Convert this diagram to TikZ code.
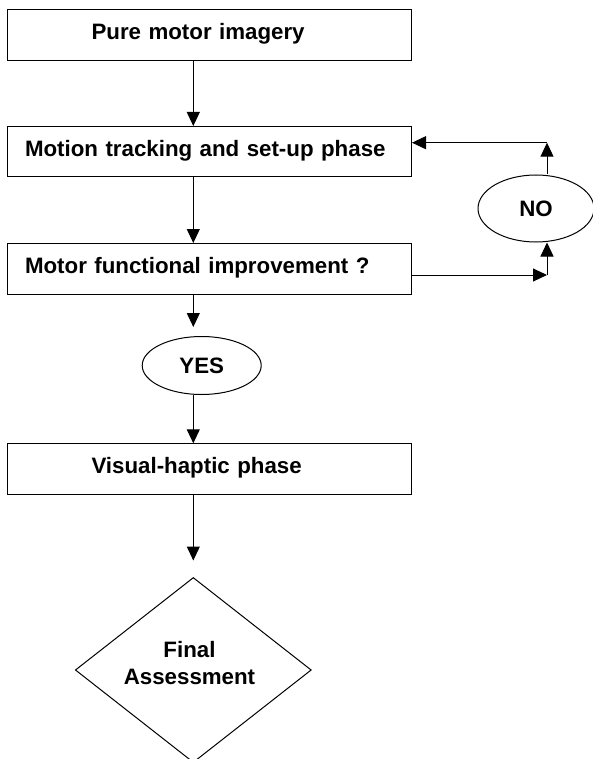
\documentclass[tikz,border=0pt]{standalone}
\usepackage{fontspec}
\setmainfont{Liberation Sans}
\usetikzlibrary{shapes.geometric,arrows.meta,calc}
\begin{document}
\begin{tikzpicture}[x=1pt,y=1pt,
  every node/.style={font=\fontsize{22.3}{26.7}\selectfont\bfseries},
  box/.style={draw, line width=1pt, rectangle, minimum width=404pt, text height=30pt, text depth=20.5pt, inner ysep=0pt, align=left, anchor=north},
  wide/.style={box, inner xsep=17.5pt, text width=369pt},
  narrow/.style={box, inner xsep=84pt, text width=236pt},
  oval/.style={draw, line width=1pt, ellipse, inner sep=0pt},
  arr/.style={line width=1pt, -{Triangle[length=14pt,width=13pt]}}]
\useasboundingbox (0,0) rectangle (593,-759);
\coordinate (ax) at (193.3,0);
\node[narrow] (b1) at (209.5,-9.3) {Pure motor imagery};
\node[wide] (b2) at (209.5,-126) {Motion tracking and set-up phase};
\node[wide] (b3) at (209.5,-243) {Motor functional improvement ?};
\node[oval, minimum width=119pt, minimum height=58pt] (yes) at (201.7,-365.5) {YES};
\node[narrow] (b4) at (209.5,-443.3) {Visual-haptic phase};
\node[draw, diamond, line width=1pt, minimum width=236pt, minimum height=185pt, inner sep=0pt] (fa) at (193.3,-670) {};
\node[align=center, inner sep=0pt] (fatext) at (189.5,-663) {Final\\Assessment};
\node[oval, minimum width=116pt, minimum height=67pt] (no) at (536,-208.5) {NO};
% main column
\draw[arr] (ax |- b1.south) -- (ax |- b2.north);
\draw[arr] (ax |- b2.south) -- (ax |- b3.north);
\coordinate (ytip) at ($(ax |- yes.north)+(0,9)$);
\draw[arr] (ax |- b3.south) -- (ytip);
\draw[arr] (ax |- yes.south) -- (ax |- b4.north);
\coordinate (dtip) at ($(fa.north)+(0,16.5)$);
\draw[arr] (ax |- b4.south) -- (dtip);
% NO loop
\coordinate (r1) at (547,-275);
\coordinate (r2) at (547,-142.7);
\draw[arr] (b3.east |- r1) -- (r1);
\draw[arr] (r1) -- (r1 |- no.south);
\draw[arr] (r2 |- no.north) -- (r2);
\draw[arr] (r2) -- (r2 -| b2.east);
\end{tikzpicture}
\end{document}
